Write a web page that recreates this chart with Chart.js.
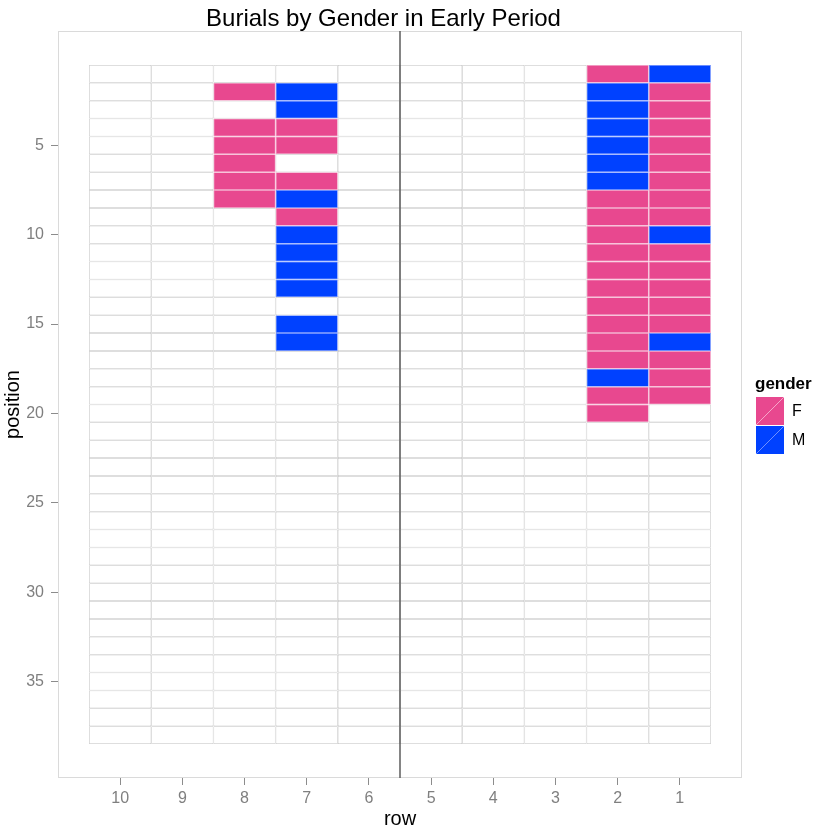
<!DOCTYPE html>
<html>
<head>
<meta charset="utf-8">
<title>Burials by Gender in Early Period</title>
<script src="https://cdn.jsdelivr.net/npm/chart.js@4.4.1/dist/chart.umd.min.js"></script>
<style>
  body { margin: 0; background: #fff; font-family: "Liberation Sans", Arial, sans-serif; }
  #wrap { position: relative; width: 817px; height: 827px; }
  #burials { position: absolute; left: 0; top: 0; }
  .title { position: absolute; left: 0; top: 6px; width: 767px; text-align: center; font-size: 24px; line-height: 24px; color: #000; }
  .legend-title { position: absolute; left: 755px; top: 375px; font-size: 17px; line-height: 17px; font-weight: bold; }
  .key { position: absolute; left: 756px; width: 28px; height: 28px; }
  .key-label { position: absolute; left: 792px; font-size: 16px; line-height: 28px; }
</style>
</head>
<body>
<div id="wrap">
  <canvas id="burials" width="817" height="827"></canvas>
  <div class="title">Burials by Gender in Early Period</div>
  <div class="legend-title">gender</div>
  <div class="key" id="keyF" style="top:397px"></div>
  <div class="key-label" style="top:397px">F</div>
  <div class="key" id="keyM" style="top:426px"></div>
  <div class="key-label" style="top:426px">M</div>
</div>
<script>
// rows run right to left (10 on the left), positions run top to bottom
var rows = [10, 9, 8, 7, 6, 5, 4, 3, 2, 1];
var positions = [1, 2, 3, 4, 5, 6, 7, 8, 9, 10, 11, 12, 13, 14, 15, 16, 17, 18, 19,
  20, 21, 22, 23, 24, 25, 26, 27, 28, 29, 30, 31, 32, 33, 34, 35, 36, 37, 38];
var xTicks = [10, 9, 8, 7, 6, 5, 4, 3, 2, 1];
var yTicks = [5, 10, 15, 20, 25, 30, 35];

// gender at each position of a row, starting at position 1 ("" = empty)
var row1 = ["M", "F", "F", "F", "F", "F", "F", "F", "F", "M", "F", "F", "F", "F", "F", "M", "F", "F", "F"];
var row2 = ["F", "M", "M", "M", "M", "M", "M", "F", "F", "F", "F", "F", "F", "F", "F", "F", "F", "M", "F", "F"];
var row7 = ["", "M", "M", "F", "F", "", "F", "M", "F", "M", "M", "M", "M", "", "M", "M"];
var row8 = ["", "F", "", "F", "F", "F", "F", "F"];
var genderByRow = { 1: row1, 2: row2, 7: row7, 8: row8 };

var dividerAt = 5.5; // vertical line between row 6 and row 5

var pink = "#e8488f";
var blue = "#0041ff";
document.getElementById("keyF").style.background =
  "linear-gradient(to bottom right, " + pink + " calc(50% - 0.6px), #f5a6c9 50%, " + pink + " calc(50% + 0.6px))";
document.getElementById("keyM").style.background =
  "linear-gradient(to bottom right, " + blue + " calc(50% - 0.6px), #6f90ff 50%, " + blue + " calc(50% + 0.6px))";

function tiles(gender) {
  var out = [];
  rows.forEach(function (r) {
    var col = genderByRow[r] || [];
    positions.forEach(function (p) {
      var g = col[p - 1] || "";
      if (g === gender) out.push({ y: p, x: [r - 0.5, r + 0.5] });
    });
  });
  return out;
}

function tileSet(label, gender, fill, edge) {
  return {
    label: label,
    data: tiles(gender),
    backgroundColor: fill,
    borderColor: edge,
    borderWidth: 0.75,
    borderSkipped: false,
    inflateAmount: 0,
    grouped: false,
    categoryPercentage: 1,
    barPercentage: 1,
  };
}

var panel = {
  id: "panel",
  beforeDatasetsDraw: function (chart) {
    var a = chart.chartArea, ctx = chart.ctx;
    ctx.save();
    ctx.strokeStyle = "#dadada";
    ctx.lineWidth = 1;
    ctx.strokeRect(a.left + 0.5, a.top + 0.5, a.right - a.left - 1, a.bottom - a.top - 1);
    ctx.restore();
  },
  afterDatasetsDraw: function (chart) {
    var a = chart.chartArea, ctx = chart.ctx;
    var x = chart.scales.x.getPixelForValue(dividerAt);
    ctx.save();
    ctx.strokeStyle = "#5c5c5c";
    ctx.lineWidth = 1.5;
    ctx.beginPath();
    ctx.moveTo(x, a.top);
    ctx.lineTo(x, a.bottom);
    ctx.stroke();
    ctx.restore();
  },
};

Chart.defaults.font.family = "'Liberation Sans', Arial, sans-serif";

var ctx = document.getElementById("burials").getContext("2d");
var chart = new Chart(ctx, {
  type: "bar",
  data: {
    datasets: [
      tileSet("empty", "", "#ffffff", "#c6c6c6"),
      tileSet("F", "F", pink, "#f29ac2"),
      tileSet("M", "M", blue, "#6a8cff"),
    ],
  },
  options: {
    indexAxis: "y",
    responsive: false,
    animation: false,
    layout: { padding: { top: 31, right: 75, left: 0, bottom: 0 } },
    plugins: { legend: { display: false }, tooltip: { enabled: false }, title: { display: false } },
    scales: {
      x: {
        type: "linear",
        reverse: true,
        min: 0,
        max: 11,
        afterBuildTicks: function (axis) {
          axis.ticks = xTicks.map(function (v) { return { value: v }; });
        },
        afterFit: function (axis) { axis.height = 49; },
        grid: { drawOnChartArea: false, drawTicks: true, tickLength: 7, color: "#8c8c8c" },
        border: { display: false },
        ticks: {
          color: "#7f7f7f",
          font: { size: 16 },
          padding: 4,
          maxRotation: 0,
          callback: function (v) { return String(v); },
        },
        title: { display: true, text: "row", color: "#000", font: { size: 20, lineHeight: 1 }, padding: { top: 0, bottom: -2 } },
      },
      y: {
        type: "linear",
        reverse: true,
        offset: false,
        min: -1.4,
        max: 40.4,
        afterBuildTicks: function (axis) {
          axis.ticks = yTicks.map(function (v) { return { value: v }; });
        },
        afterFit: function (axis) { axis.width = 58; },
        grid: { offset: false, drawOnChartArea: false, drawTicks: true, tickLength: 7, color: "#8c8c8c" },
        border: { display: false },
        ticks: {
          color: "#7f7f7f",
          font: { size: 16 },
          padding: 7,
          callback: function (v) { return String(v); },
        },
        title: { display: true, text: "position", color: "#000", font: { size: 20 }, padding: { top: 1, bottom: 0 } },
      },
    },
  },
  plugins: [panel],
});
</script>
</body>
</html>
